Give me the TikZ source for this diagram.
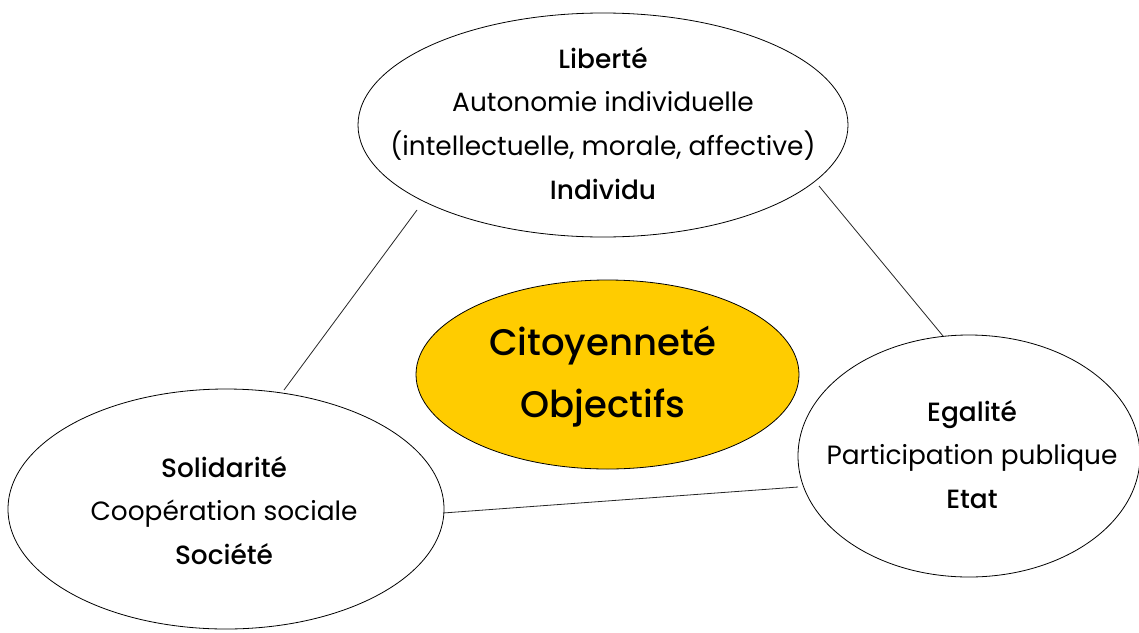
\documentclass[tikz,border=0pt]{standalone}
\usepackage{fontspec}
\setmainfont{Poppins}[BoldFont={Poppins Medium}]
\usetikzlibrary{shapes.geometric}
\definecolor{citoyellow}{HTML}{FFCC00}
\begin{document}
\begin{tikzpicture}[x=1pt,y=-1pt,
  bubble/.style={ellipse,draw=black,line width=0.8pt,inner sep=0pt,fill=white},
  core/.style={ellipse,draw=black,line width=0.8pt,fill=citoyellow,inner sep=0pt},
  bubbletext/.style={inner sep=0pt,align=center,font=\fontsize{26.4}{43.8}\selectfont},
  coretext/.style={inner sep=0pt,align=center,font=\fontsize{37}{62}\selectfont\bfseries},
  link/.style={line width=0.8pt,draw=black!85}]
\useasboundingbox[fill=white] (0,0) rectangle (1139,632);
\node[bubble,minimum width=490pt,minimum height=224pt] (lib) at (603,125) {};
\node[bubbletext] (libt) at (603,123.5)
  {\textbf{Liberté}\\Autonomie individuelle\\(intellectuelle, morale, affective)\\\textbf{Individu}};
\node[core,minimum width=383pt,minimum height=189pt] (cit) at (607.5,374.5) {};
\node[coretext] (citt) at (603,377) {Citoyenneté\\Objectifs};
\node[bubble,minimum width=342pt,minimum height=242pt] (ega) at (969,456) {};
\node[bubbletext] (egat) at (972,454.5)
  {\textbf{Egalité}\\Participation publique\\\textbf{Etat}};
\node[bubble,minimum width=436pt,minimum height=240pt] (sol) at (226,509) {};
\node[bubbletext] (solt) at (224,510.5)
  {\textbf{Solidarité}\\Coopération sociale\\\textbf{Société}};
\coordinate (l1a) at (417,210);
\coordinate (l1b) at (284,390);
\coordinate (l2a) at (819,186);
\coordinate (l2b) at (943,336);
\coordinate (l3a) at (443,513);
\coordinate (l3b) at (798,487);
\draw[link] (l1a) -- (l1b);
\draw[link] (l2a) -- (l2b);
\draw[link] (l3a) -- (l3b);
\end{tikzpicture}
\end{document}
